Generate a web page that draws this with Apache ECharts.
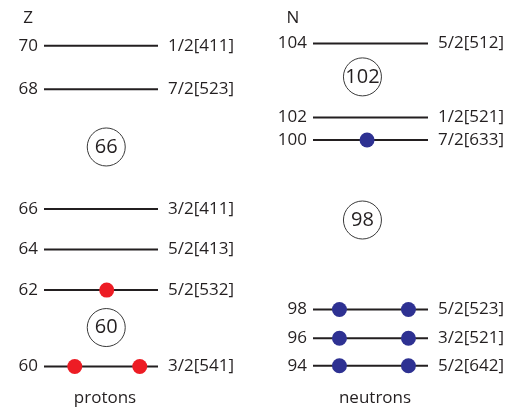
<!DOCTYPE html>
<html>
<head>
<meta charset="utf-8">
<script src="https://cdn.jsdelivr.net/npm/echarts@6/dist/echarts.min.js"></script>
<style>
  html, body { margin: 0; padding: 0; background: #fff; }
  #chart { width: 506px; height: 407px; }
</style>
</head>
<body>
<div id="chart"></div>
<script>
// Single-particle (Nilsson) levels near the Fermi surface, energies in arbitrary units
const protonNumbers   = [70, 68, 66, 64, 62, 60];
const protonEnergies  = [93.0, 81.1, 48.5, 37.5, 26.4, 5.6];
const protonOrbitals  = ['1/2[411]', '7/2[523]', '3/2[411]', '5/2[413]', '5/2[532]', '3/2[541]'];
const protonOccupied  = [0, 0, 0, 0, 1, 2];
const protonGaps      = ['66', '60'];
const protonGapEnergy = [65.4, 16.2];

const neutronNumbers   = [104, 102, 100, 98, 96, 94];
const neutronEnergies  = [93.6, 73.4, 67.3, 21.1, 13.3, 5.8];
const neutronOrbitals  = ['5/2[512]', '1/2[521]', '7/2[633]', '5/2[523]', '3/2[521]', '5/2[642]'];
const neutronOccupied  = [0, 0, 1, 2, 2, 2];
const neutronGaps      = ['102', '98'];
const neutronGapEnergy = [84.5, 45.5];

const FONT = '"Open Sans", "Noto Sans", sans-serif';
const TEXT = '#231f20';
const LINE = '#231f20';

// Level segments with the particle number on the left and the orbital label on the right
function levelSeries(gridIndex, numbers, energies, orbitals) {
  return {
    type: 'custom',
    xAxisIndex: gridIndex,
    yAxisIndex: gridIndex,
    data: energies.map(function (e, i) { return [i, e]; }),
    renderItem: function (params, api) {
      const i = api.value(0);
      const e = api.value(1);
      const a = api.coord([0, e]);
      const b = api.coord([1, e]);
      return {
        type: 'group',
        children: [
          { type: 'line', shape: { x1: a[0], y1: a[1], x2: b[0], y2: b[1] },
            style: { stroke: LINE, lineWidth: 2 } },
          { type: 'text', style: { text: String(numbers[i]), x: a[0] - 6, y: a[1],
            align: 'right', verticalAlign: 'middle', fontSize: 17, fontFamily: FONT, fill: TEXT } },
          { type: 'text', style: { text: orbitals[i], x: b[0] + 10, y: b[1],
            align: 'left', verticalAlign: 'middle', fontSize: 17, fontFamily: FONT, fill: TEXT } }
        ]
      };
    },
    z: 2
  };
}

// Filled dots for occupied orbitals (one particle or a pair)
function dotSeries(gridIndex, energies, occupied, color, singleX, pairX) {
  const pts = [];
  energies.forEach(function (e, i) {
    if (occupied[i] === 1) pts.push([singleX, e]);
    if (occupied[i] === 2) { pts.push([pairX[0], e]); pts.push([pairX[1], e]); }
  });
  return {
    type: 'scatter',
    xAxisIndex: gridIndex,
    yAxisIndex: gridIndex,
    data: pts,
    symbol: 'circle',
    symbolSize: 15,
    itemStyle: { color: color, opacity: 1 },
    z: 3
  };
}

// Encircled shell-gap numbers
function gapSeries(gridIndex, labels, energies, x) {
  return {
    type: 'scatter',
    xAxisIndex: gridIndex,
    yAxisIndex: gridIndex,
    data: energies.map(function (e, i) { return { value: [x, e], name: labels[i] }; }),
    symbol: 'circle',
    symbolSize: 38,
    itemStyle: { color: '#fff', borderColor: '#3a3a3a', borderWidth: 1, opacity: 1 },
    label: { show: true, position: 'inside', formatter: '{b}', fontSize: 20,
             fontFamily: FONT, color: TEXT },
    z: 3
  };
}

function axisPair(gridIndex) {
  return {
    x: { type: 'value', gridIndex: gridIndex, min: 0, max: 1, show: false },
    y: { type: 'value', gridIndex: gridIndex, min: 0, max: 100, show: false }
  };
}

const ax0 = axisPair(0), ax1 = axisPair(1);

const option = {
  animation: false,
  backgroundColor: '#fff',
  grid: [
    { left: 44, width: 114, top: 20, height: 367 },
    { left: 313, width: 115, top: 20, height: 367 }
  ],
  xAxis: [ax0.x, ax1.x],
  yAxis: [ax0.y, ax1.y],
  graphic: [
    { type: 'text', x: 28, y: 18, style: { text: 'Z', align: 'center', verticalAlign: 'middle',
      fontSize: 17, fontFamily: FONT, fill: TEXT } },
    { type: 'text', x: 293, y: 18, style: { text: 'N', align: 'center', verticalAlign: 'middle',
      fontSize: 17, fontFamily: FONT, fill: TEXT } },
    { type: 'text', x: 105, y: 398, style: { text: 'protons', align: 'center', verticalAlign: 'middle',
      fontSize: 17, fontFamily: FONT, fill: TEXT } },
    { type: 'text', x: 375, y: 398, style: { text: 'neutrons', align: 'center', verticalAlign: 'middle',
      fontSize: 17, fontFamily: FONT, fill: TEXT } }
  ],
  series: [
    levelSeries(0, protonNumbers, protonEnergies, protonOrbitals),
    levelSeries(1, neutronNumbers, neutronEnergies, neutronOrbitals),
    dotSeries(0, protonEnergies, protonOccupied, '#ed1c24', 0.55, [0.27, 0.84]),
    dotSeries(1, neutronEnergies, neutronOccupied, '#2e3192', 0.47, [0.23, 0.83]),
    gapSeries(0, protonGaps, protonGapEnergy, 0.546),
    gapSeries(1, neutronGaps, neutronGapEnergy, 0.43)
  ]
};

const chart = echarts.init(document.getElementById('chart'), null, { renderer: 'canvas' });
chart.setOption(option);
</script>
</body>
</html>
